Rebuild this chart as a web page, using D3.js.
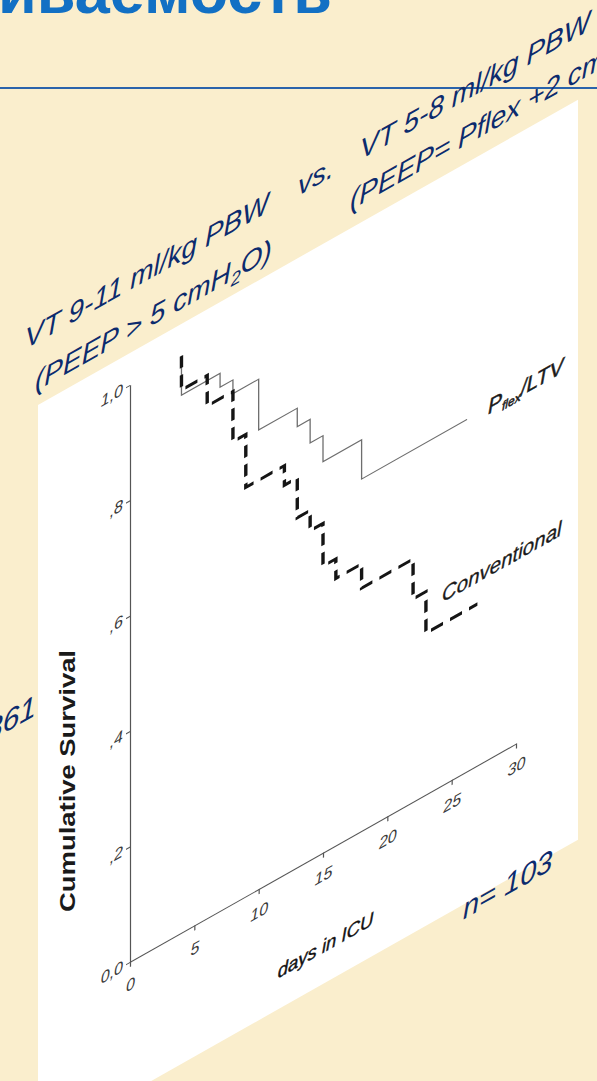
<!DOCTYPE html>
<html>
<head>
<meta charset="utf-8">
<script src="https://cdn.jsdelivr.net/npm/d3@7"></script>
<style>
  body { margin: 0; background: #faeecd; }
  svg { display: block; font-family: "Liberation Sans", Arial, sans-serif; }
</style>
</head>
<body>
<svg id="chart" width="597" height="1081"></svg>
<script>
// Kaplan-Meier curves (days in ICU -> cumulative survival)
var ltvDays = [4, 7, 8, 10, 13, 14, 15, 18];
var ltvSurv = [0.932, 0.908, 0.884, 0.796, 0.764, 0.723, 0.678, 0.610];
var ltvEnd = 26.2;

var convDays = [4, 6, 8, 9, 12, 13, 14, 15, 16, 18, 22, 23];
var convSurv = [0.941, 0.888, 0.801, 0.709, 0.675, 0.606, 0.571, 0.497, 0.463, 0.421, 0.352, 0.280];
var convEnd = 27;

var xTicks = [0, 5, 10, 15, 20, 25, 30];
var yTicks = [0, 0.2, 0.4, 0.6, 0.8, 1.0];
var yTickLabels = ["0,0", ",2", ",4", ",6", ",8", "1,0"];

var navy = "#0c2b6e";
var svg = d3.select("#chart");

svg.append("rect").attr("width", 597).attr("height", 1081).attr("fill", "#faeecd");

// title, cut off by the top edge
svg.append("text")
  .attr("x", 332).attr("y", 13)
  .attr("text-anchor", "end")
  .attr("font-size", 63).attr("font-weight", "bold")
  .attr("fill", "#1270c4")
  .text("Выживаемость");

svg.append("line")
  .attr("x1", 0).attr("x2", 597).attr("y1", 88).attr("y2", 88)
  .attr("stroke", "#2a63ab").attr("stroke-width", 2.2);

// the slide picture is sheared: everything below lives in a skewed frame
var g = svg.append("g").attr("transform", "translate(130,0) skewY(-29.48)");

g.append("rect")
  .attr("x", -92).attr("y", 353).attr("width", 540).attr("height", 740)
  .attr("fill", "#fff");

var x = d3.scaleLinear().domain([0, 30]).range([0, 386]);
var y = d3.scaleLinear().domain([0, 1]).range([962, 385]);

var yAxis = g.append("g")
  .call(d3.axisLeft(y).tickValues(yTicks)
    .tickFormat(function(d, i) { return yTickLabels[i]; })
    .tickSize(4).tickPadding(3).tickSizeOuter(0));

var xAxis = g.append("g")
  .attr("transform", "translate(0,962)")
  .call(d3.axisBottom(x).tickValues(xTicks)
    .tickSize(5).tickPadding(12).tickSizeOuter(0));

[yAxis, xAxis].forEach(function(a) {
  a.selectAll("path, line").attr("stroke", "#555").attr("stroke-width", 1.2);
  a.selectAll("text")
    .attr("font-family", "Liberation Sans, Arial, sans-serif")
    .attr("font-size", 16).attr("font-style", "italic").attr("fill", "#3a3a3a");
});

function steps(days, surv, end) {
  var pts = [[days[0], 1]];
  days.forEach(function(d, i) { pts.push([d, surv[i]]); });
  pts.push([end, surv[surv.length - 1]]);
  return pts;
}

var line = d3.line()
  .x(function(d) { return x(d[0]); })
  .y(function(d) { return y(d[1]); })
  .curve(d3.curveStepAfter);

g.append("path")
  .datum(steps(ltvDays, ltvSurv, ltvEnd))
  .attr("d", line)
  .attr("fill", "none").attr("stroke", "#6e6e6e").attr("stroke-width", 1.3);

g.append("path")
  .datum(steps(convDays, convSurv, convEnd))
  .attr("d", line)
  .attr("fill", "none").attr("stroke", "#151515").attr("stroke-width", 3.4)
  .attr("stroke-dasharray", "12,7");

// series labels
var pl = g.append("text")
  .attr("x", 358).attr("y", 617)
  .attr("font-size", 21).attr("font-style", "italic")
  .attr("fill", "#1a1a1a").attr("stroke", "#1a1a1a").attr("stroke-width", 0.5);
pl.append("tspan").text("P");
pl.append("tspan").attr("font-size", 12).attr("dy", 4).text("flex");
pl.append("tspan").attr("dy", -4).text("/LTV");

g.append("text")
  .attr("x", 312).attr("y", 779)
  .attr("font-size", 20.5).attr("font-style", "italic")
  .attr("fill", "#1a1a1a").attr("stroke", "#1a1a1a").attr("stroke-width", 0.3)
  .text("Conventional");

g.append("text")
  .attr("x", x(15.2)).attr("y", 1062)
  .attr("text-anchor", "middle")
  .attr("font-size", 18.5).attr("font-style", "italic")
  .attr("fill", "#111").attr("stroke", "#111").attr("stroke-width", 0.4)
  .text("days in ICU");

// headings
g.append("text")
  .attr("x", -105).attr("y", 290)
  .attr("font-size", 28).attr("font-style", "italic").attr("fill", navy)
  .text("VT 9-11 ml/kg PBW");

g.append("text")
  .attr("x", 168).attr("y", 291)
  .attr("font-size", 28).attr("font-style", "italic").attr("fill", navy)
  .text("vs.");

g.append("text")
  .attr("x", 230).attr("y", 290)
  .attr("font-size", 28).attr("font-style", "italic").attr("fill", navy)
  .text("VT 5-8 ml/kg PBW");

var l2 = g.append("text")
  .attr("x", -95).attr("y", 338)
  .attr("font-size", 28).attr("font-style", "italic").attr("fill", navy);
l2.append("tspan").text("(PEEP > 5 cmH");
l2.append("tspan").attr("font-size", 18).attr("dy", 6).text("2");
l2.append("tspan").attr("dy", -6).text("O)");

var r2 = g.append("text")
  .attr("x", 220).attr("y", 335)
  .attr("font-size", 28).attr("font-style", "italic").attr("fill", navy);
r2.append("tspan").text("(PEEP= Pflex +2 cmH");
r2.append("tspan").attr("font-size", 18).attr("dy", 6).text("2");
r2.append("tspan").attr("dy", -6).text("O)");

g.append("text")
  .attr("x", 333).attr("y", 1108)
  .attr("font-size", 29).attr("font-style", "italic").attr("fill", navy)
  .text("n= 103");

g.append("text")
  .attr("x", -94).attr("y", 662)
  .attr("text-anchor", "end")
  .attr("font-size", 30).attr("font-style", "italic").attr("fill", navy)
  .text("0,0861");

// y title stays upright
svg.append("text")
  .attr("transform", "translate(75,781) rotate(-90)")
  .attr("text-anchor", "middle")
  .attr("font-size", 22).attr("font-weight", "bold")
  .attr("textLength", 262).attr("lengthAdjust", "spacingAndGlyphs")
  .attr("fill", "#1a1a1a")
  .text("Cumulative Survival");
</script>
</body>
</html>
